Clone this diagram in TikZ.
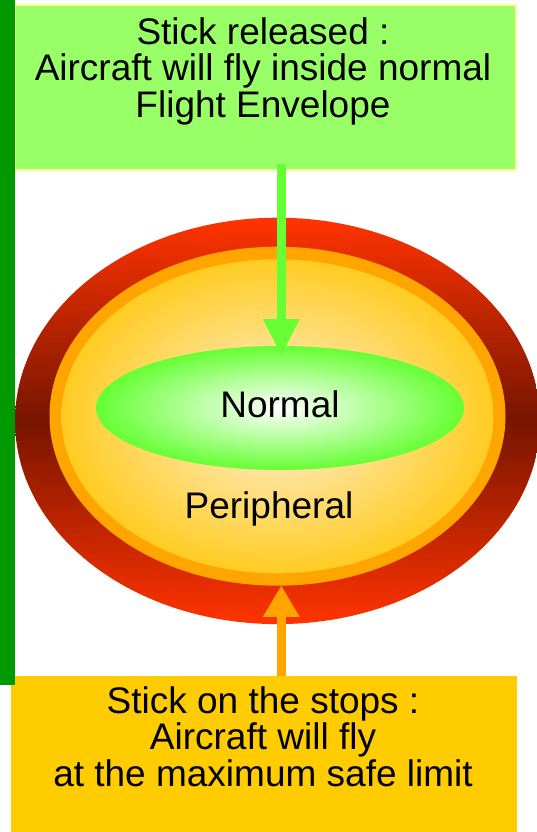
\documentclass[tikz,border=0pt]{standalone}
\usepackage{fontspec}
\setmainfont{Liberation Sans}
\usetikzlibrary{shapes.geometric,arrows.meta}
\definecolor{barGreen}{HTML}{009900}
\definecolor{boxGreen}{HTML}{99FF66}
\definecolor{boxEdge}{HTML}{FFFF99}
\definecolor{boxGold}{HTML}{FFCC00}
\definecolor{arrGreen}{HTML}{66FF33}
\definecolor{ringOrange}{HTML}{FFA500}
\definecolor{redTop}{HTML}{FF3300}
\definecolor{redMid}{HTML}{771500}
\definecolor{yelEdge}{HTML}{FFCC22}
\definecolor{yelCore}{HTML}{FFF0DC}
\definecolor{normEdge}{HTML}{66FF33}
\begin{document}
\begin{tikzpicture}[x=1pt,y=-1pt,
  txt/.style={font=\fontsize{37}{36.3}\selectfont, inner sep=0pt, align=center},
  ell/.style={ellipse, inner sep=0pt, draw=none},
  infobox/.style={rectangle, inner sep=0pt},
  bigarrow/.style={line width=9pt, -{Triangle[width=37pt,length=#1,line width=0pt]}},
]
\useasboundingbox (0,0) rectangle (536,832);
% top box
\node[infobox, fill=boxGreen, draw=boxEdge, line width=2pt,
      minimum width=501pt, minimum height=165pt] (top) at (265.5,87.5) {};
\node[txt, anchor=north] (toptxt) at (263,17.6)
  {Stick released :\\Aircraft will fly inside normal\\Flight Envelope};
% envelope
\node[ell, minimum width=525pt, minimum height=406.4pt,
      top color=redTop, bottom color=redTop, middle color=redMid] (outer) at (277.5,420.9) {};
\node[ell, fill=ringOrange, minimum width=456pt, minimum height=339pt] (ring) at (277.5,416.2) {};
\node[ell, inner color=yelCore, outer color=yelEdge, minimum width=432pt, minimum height=314pt] (periphery) at (277.4,416.3) {};
\node[ell, inner color=white, outer color=normEdge, minimum width=368pt, minimum height=124pt] (normal) at (280,408) {};
\node[txt, anchor=base] (normaltxt) at (280,417.7) {Normal};
\node[txt, anchor=base] (periphtxt) at (269,518.3) {Peripheral};
% arrows
\draw[bigarrow=36pt, arrGreen, shorten <=-7pt, shorten >=-9.3pt] ([xshift=1.3pt]top.south -| normal.center) -- ([xshift=1.3pt]normal.north);
% bottom box
\node[infobox, fill=boxGold, minimum width=506pt, minimum height=156pt, anchor=north west] (bottom) at (11,676) {};
\draw[bigarrow=31pt, ringOrange] ([xshift=1.3pt]bottom.north -| normal.center) -- ([xshift=1.3pt]ring.south -| normal.center);
\node[txt, anchor=north] (bottomtxt) at (263,686.6)
  {Stick on the stops :\\Aircraft will fly\\at the maximum safe limit};
% left bar
\node[infobox, fill=barGreen, minimum width=15pt, minimum height=685pt, anchor=north west] (bar) at (0,0) {};
\end{tikzpicture}
\end{document}
